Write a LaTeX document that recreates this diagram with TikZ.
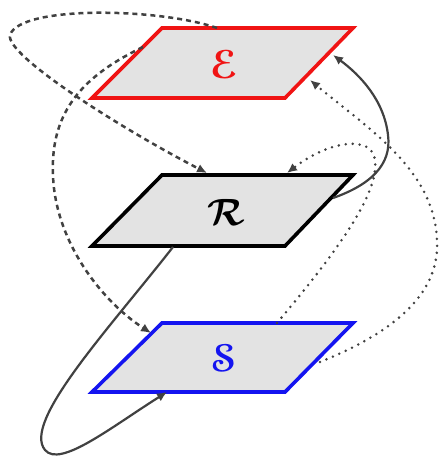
\documentclass[tikz,border=0pt]{standalone}
\usepackage{graphicx}
\usepackage[mathscr]{euscript}
\usetikzlibrary{arrows.meta}
\definecolor{planefill}{RGB}{227,227,227}
\definecolor{conn}{RGB}{65,65,65}
\definecolor{ered}{RGB}{240,20,20}
\definecolor{sblue}{RGB}{20,20,240}
\tikzset{
  plane/.style={fill=planefill, line width=3.6pt, line join=miter},
  lbl/.style={inner sep=0pt},
  conbase/.style={conn, line width=2.2pt, -{Latex[length=10pt,width=9pt]}},
  solidc/.style={conbase},
  dashc/.style={conbase, line width=2.5pt, dash pattern=on 5pt off 4pt},
  dotc/.style={conbase, line cap=round, dash pattern=on 0pt off 7pt, line width=2.8pt}
}
\begin{document}
\begin{tikzpicture}[x=1pt,y=-1pt]
\path[use as bounding box] (0,0) rectangle (439,462);
% planes
\draw[plane, draw=ered] (162,28) -- (353,28) -- (285,98) -- (92,98) -- cycle;
\draw[plane, draw=black] (162,175) -- (353,175) -- (285,246) -- (92,246) -- cycle;
\draw[plane, draw=sblue] (162,323) -- (353,323) -- (285,392) -- (92,392) -- cycle;
\node[lbl, text=ered] (E) at (224,64) {\scalebox{4}{\boldmath$\mathscr{E}$}};
\node[lbl] (R) at (226,212) {\scalebox{3.8}{\boldmath$\mathcal{R}$}};
\node[lbl, text=sblue] (S) at (224,358) {\scalebox{3.8}{\boldmath$\mathscr{S}$}};
% anchor points on edges
\coordinate (Etop) at (217,28);
\coordinate (Eleft) at (143,47);
\coordinate (Eright1) at (333,55);
\coordinate (Eright2) at (310,80);
\coordinate (Rtop1) at (207,173);
\coordinate (Rtop2) at (287,173);
\coordinate (Rright) at (333,198);
\coordinate (Rbot) at (173,247);
\coordinate (Sleft) at (151,333);
\coordinate (Stop) at (277,323);
\coordinate (Sright) at (320,362);
\coordinate (Sbot) at (167,392);
% connectors
\draw[dashc] (Etop) .. controls (160,8) and (20,5) .. (10,35)
  .. controls (5,55) and (120,128) .. (Rtop1);
\draw[dashc] (Eleft) .. controls (85,75) and (50,110) .. (53,175)
  .. controls (55,240) and (100,300) .. (Sleft);
\draw[solidc] (Rright) .. controls (370,185) and (392,165) .. (388,135)
  .. controls (384,100) and (360,75) .. (Eright1);
\draw[dotc] (Sright) .. controls (400,330) and (440,290) .. (437,240)
  .. controls (434,170) and (370,130) .. (Eright2);
\draw[dotc] (Stop) .. controls (330,260) and (380,195) .. (375,160)
  .. controls (372,135) and (330,140) .. (Rtop2);
\draw[solidc] (Rbot) .. controls (108,330) and (22,422) .. (45,450)
  .. controls (60,468) and (110,428) .. (Sbot);
\end{tikzpicture}
\end{document}
